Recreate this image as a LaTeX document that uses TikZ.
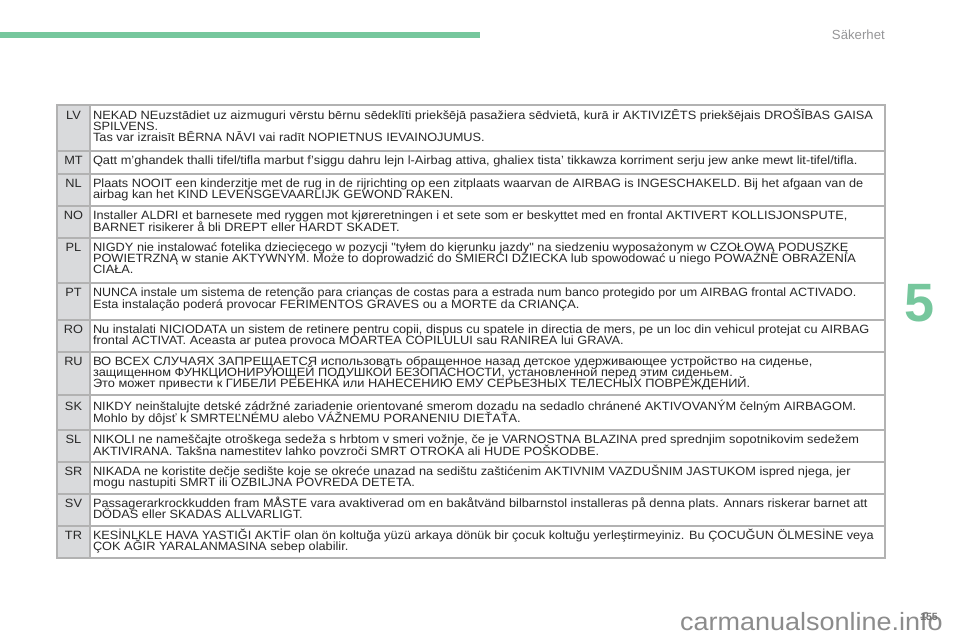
\documentclass[tikz,border=0pt]{standalone}
\usepackage{fontspec}
\setmainfont{Liberation Sans}
\newfontfamily\cellfont[FakeStretch=1.065]{Liberation Sans}
\newfontfamily\wmfont[FakeStretch=1.08]{Liberation Sans}
\definecolor{rulegray}{RGB}{178,178,178}
\definecolor{cellgray}{RGB}{217,218,220}
\definecolor{barteal}{RGB}{118,199,157}
\definecolor{headgray}{RGB}{150,150,152}
\definecolor{txt}{RGB}{40,40,40}
\tikzset{x=1pt,y=-1pt,
  rowline/.style={draw=rulegray,line width=1.1pt},
  celltext/.style={anchor=base west,inner sep=0pt,outer sep=0pt,text=txt,font=\cellfont\fontsize{12}{12}\selectfont},
  langtext/.style={anchor=base,inner sep=0pt,outer sep=0pt,text=txt,font=\cellfont\fontsize{12}{12}\selectfont}}
\newcommand{\Lg}[2]{\node[langtext] (lang#2) at (73.5,#1) {#2};}
\newcommand{\Tx}[2]{\node[celltext] at (93,#1) {#2};}
\newcommand{\TxS}[3]{\node[celltext] at (93,#2) {\scalebox{#1}[1]{#3}};}
\begin{document}
\begin{tikzpicture}
\useasboundingbox (0,0) rectangle (960,640);
\fill[white] (0,0) rectangle (960,640);
\fill[barteal] (0,32.3) rectangle (480,38.3);
\node[anchor=base east,inner sep=0pt,text=headgray,font=\fontsize{13.2}{14}\selectfont] (head) at (885,39) {Säkerhet};
\node[anchor=center,inner sep=0pt,text=barteal,font=\fontsize{54}{54}\selectfont\bfseries] (chap) at (920,303) {5};
\fill[cellgray] (57,105) rectangle (90,558);
\draw[rulegray,line width=1.1pt] (57,105) rectangle (885,558);
\draw[rowline] (90,105) -- (90,558);
\foreach \y in {151,174,206,238,283,320,352,395,430,462,494,526}
  \draw[rowline] (57,\y) -- (885,\y);
\Lg{119.5}{LV}
\TxS{1.003}{119.5}{NEKAD NEuzstādiet uz aizmuguri vērstu bērnu sēdeklīti priekšējā pasažiera sēdvietā, kurā ir AKTIVIZĒTS priekšējais DROŠĪBAS GAISA}
\Tx{130.5}{SPILVENS.}
\Tx{141.5}{Tas var izraisīt BĒRNA NĀVI vai radīt NOPIETNUS IEVAINOJUMUS.}
\Lg{164}{MT}
\TxS{1.003}{164}{Qatt m’ghandek thalli tifel/tifla marbut f’siggu dahru lejn l-Airbag attiva, ghaliex tista’ tikkawza korriment serju jew anke mewt lit-tifel/tifla.}
\Lg{187.3}{NL}
\TxS{0.995}{187.3}{Plaats NOOIT een kinderzitje met de rug in de rijrichting op een zitplaats waarvan de AIRBAG is INGESCHAKELD. Bij het afgaan van de}
\Tx{198.3}{airbag kan het KIND LEVENSGEVAARLIJK GEWOND RAKEN.}
\Lg{219.7}{NO}
\TxS{0.995}{219.7}{Installer ALDRI et barnesete med ryggen mot kjøreretningen i et sete som er beskyttet med en frontal AKTIVERT KOLLISJONSPUTE,}
\Tx{231.3}{BARNET risikerer å bli DREPT eller HARDT SKADET.}
\Lg{251.5}{PL}
\Tx{251.5}{NIGDY nie instalować fotelika dziecięcego w pozycji "tyłem do kierunku jazdy" na siedzeniu wyposażonym w CZOŁOWĄ PODUSZKĘ}
\Tx{262}{POWIETRZNĄ w stanie AKTYWNYM. Może to doprowadzić do ŚMIERCI DZIECKA lub spowodować u niego POWAŻNE OBRAŻENIA}
\Tx{273.3}{CIAŁA.}
\Lg{296.5}{PT}
\TxS{0.979}{296.5}{NUNCA instale um sistema de retenção para crianças de costas para a estrada num banco protegido por um AIRBAG frontal ACTIVADO.}
\Tx{308}{Esta instalação poderá provocar FERIMENTOS GRAVES ou a MORTE da CRIANÇA.}
\Lg{333.3}{RO}
\TxS{0.997}{333.3}{Nu instalati NICIODATA un sistem de retinere pentru copii, dispus cu spatele in directia de mers, pe un loc din vehicul protejat cu AIRBAG}
\Tx{344}{frontal ACTIVAT. Aceasta ar putea provoca MOARTEA COPILULUI sau RANIREA lui GRAVA.}
\Lg{365}{RU}
\TxS{1.016}{365}{ВО ВСЕХ СЛУЧАЯХ ЗАПРЕЩАЕТСЯ использовать обращенное назад детское удерживающее устройство на сиденье,}
\Tx{376}{защищенном ФУНКЦИОНИРУЮЩЕЙ ПОДУШКОЙ БЕЗОПАСНОСТИ, установленной перед этим сиденьем.}
\Tx{387.5}{Это может привести к ГИБЕЛИ РЕБЕНКА или НАНЕСЕНИЮ ЕМУ СЕРЬЕЗНЫХ ТЕЛЕСНЫХ ПОВРЕЖДЕНИЙ.}
\Lg{410.5}{SK}
\Tx{410.5}{NIKDY neinštalujte detské zádržné zariadenie orientované smerom dozadu na sedadlo chránené AKTIVOVANÝM čelným AIRBAGOM.}
\Tx{422.5}{Mohlo by dôjsť k SMRTEĽNÉMU alebo VÁŽNEMU PORANENIU DIEŤAŤA.}
\Lg{443.3}{SL}
\Tx{443.3}{NIKOLI ne nameščajte otroškega sedeža s hrbtom v smeri vožnje, če je VARNOSTNA BLAZINA pred sprednjim sopotnikovim sedežem}
\Tx{455}{AKTIVIRANA. Takšna namestitev lahko povzroči SMRT OTROKA ali HUDE POŠKODBE.}
\Lg{475}{SR}
\Tx{475}{NIKADA ne koristite dečje sedište koje se okreće unazad na sedištu zaštićenim AKTIVNIM VAZDUŠNIM JASTUKOM ispred njega, jer}
\Tx{486.3}{mogu nastupiti SMRT ili OZBILJNA POVREDA DETETA.}
\Lg{507.3}{SV}
\TxS{0.998}{507.3}{Passagerarkrockkudden fram MÅSTE vara avaktiverad om en bakåtvänd bilbarnstol installeras på denna plats. Annars riskerar barnet att}
\Tx{518.5}{DÖDAS eller SKADAS ALLVARLIGT.}
\Lg{539}{TR}
\TxS{0.995}{539}{KESİNLKLE HAVA YASTIĞI AKTİF olan ön koltuğa yüzü arkaya dönük bir çocuk koltuğu yerleştirmeyiniz. Bu ÇOCUĞUN ÖLMESİNE veya}
\Tx{550.3}{ÇOK AĞIR YARALANMASINA sebep olabilir.}
\node[anchor=base east,inner sep=0pt,text=black!45,font=\wmfont\fontsize{25}{26}\selectfont] (wm) at (943,630) {carmanualsonline.info};
\node[anchor=base east,inner sep=0pt,text=black!55,font=\fontsize{10.5}{11}\selectfont\bfseries] (pg) at (938,620.5) {155};
\end{tikzpicture}
\end{document}
